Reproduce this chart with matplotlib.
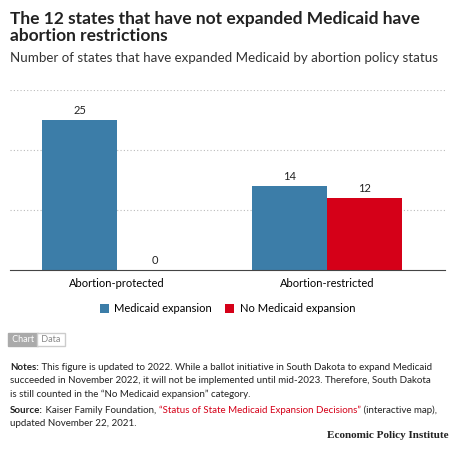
import matplotlib.pyplot as plt
import numpy as np

categories = ["Abortion-protected", "Abortion-restricted"]
expansion = [25, 14]
no_expansion = [0, 12]
series_names = ["Medicaid expansion", "No Medicaid expansion"]

blue = "#3c7da8"
red = "#d50018"

plt.rcParams['font.family'] = ['Lato', 'DejaVu Sans']
fig = plt.figure(figsize=(4.6, 4.5), dpi=100)
renderer = fig.canvas.get_renderer()


def chain(x, y, pieces, size=7):
    # draw text pieces one after another on the same baseline
    for txt, weight, color in pieces:
        t = fig.text(x, y, txt, fontsize=size, fontweight=weight, color=color, va="baseline")
        bb = t.get_window_extent(renderer)
        x += bb.width / fig.bbox.width


fig.text(0.022, 0.975, "The 12 states that have not expanded Medicaid have\nabortion restrictions",
         fontsize=12.5, fontweight="bold", va="top", color="#222222", linespacing=1.05)
fig.text(0.022, 0.885, "Number of states that have expanded Medicaid by abortion policy status",
         fontsize=9.6, va="top", color="#333333")

ax = fig.add_axes([0.022, 0.4, 0.945, 0.4])
x = np.arange(len(categories))
w = 0.357
b1 = ax.bar(x - w / 2, expansion, w, color=blue, label=series_names[0])
b2 = ax.bar(x + w / 2, no_expansion, w, color=red, label=series_names[1])
for bars in (b1, b2):
    for r in bars:
        ax.text(r.get_x() + r.get_width() / 2, r.get_height() + 0.6, f"{int(r.get_height())}",
                ha="center", va="bottom", fontsize=8, color="#222222")
ax.set_xlim(-0.51, 1.56)
ax.set_ylim(0, 30)
ax.set_yticks([10, 20, 30])
ax.yaxis.grid(True, linestyle=(0, (1, 2)), color="#bbbbbb", linewidth=0.8)
ax.set_axisbelow(True)
ax.tick_params(axis="y", length=0, labelleft=False)
ax.set_xticks(x, categories, fontsize=8)
ax.tick_params(axis="x", length=0, pad=6)
for s in ("top", "right", "left"):
    ax.spines[s].set_visible(False)
ax.spines["bottom"].set_color("#444444")
ax.legend(loc="upper center", bbox_to_anchor=(0.5, -0.13), ncol=2, frameon=False,
          fontsize=8, handlelength=0.8, handleheight=0.8, columnspacing=1.2, handletextpad=0.5)

# chart/data toggle
fig.text(0.022, 0.245, " Chart ", fontsize=6.5, color="white", va="center",
         bbox=dict(boxstyle="square,pad=0.2", fc="#aaaaaa", ec="#aaaaaa"))
fig.text(0.085, 0.245, " Data ", fontsize=6.5, color="#888888", va="center",
         bbox=dict(boxstyle="square,pad=0.2", fc="white", ec="#cccccc"))

dark = "#222222"
chain(0.022, 0.178, [("Notes:", "bold", dark),
                     (" This figure is updated to 2022. While a ballot initiative in South Dakota to expand Medicaid",
                      "normal", dark)])
fig.text(0.022, 0.148, "succeeded in November 2022, it will not be implemented until mid-2023. Therefore, South Dakota",
         fontsize=7, color=dark, va="baseline")
fig.text(0.022, 0.118, "is still counted in the \u201cNo Medicaid expansion\u201d category.",
         fontsize=7, color=dark, va="baseline")
chain(0.022, 0.083, [("Source:", "bold", dark),
                     (" Kaiser Family Foundation, ", "normal", dark),
                     ("\u201cStatus of State Medicaid Expansion Decisions\u201d", "normal", red),
                     (" (interactive map),", "normal", dark)])
fig.text(0.022, 0.053, "updated November 22, 2021.", fontsize=7, color=dark, va="baseline")
fig.text(0.975, 0.022, "Economic Policy Institute", fontsize=8, fontweight="bold", ha="right",
         va="bottom", family=["Liberation Serif", "DejaVu Serif"], color=dark)

fig.savefig("out.png", dpi=100)
